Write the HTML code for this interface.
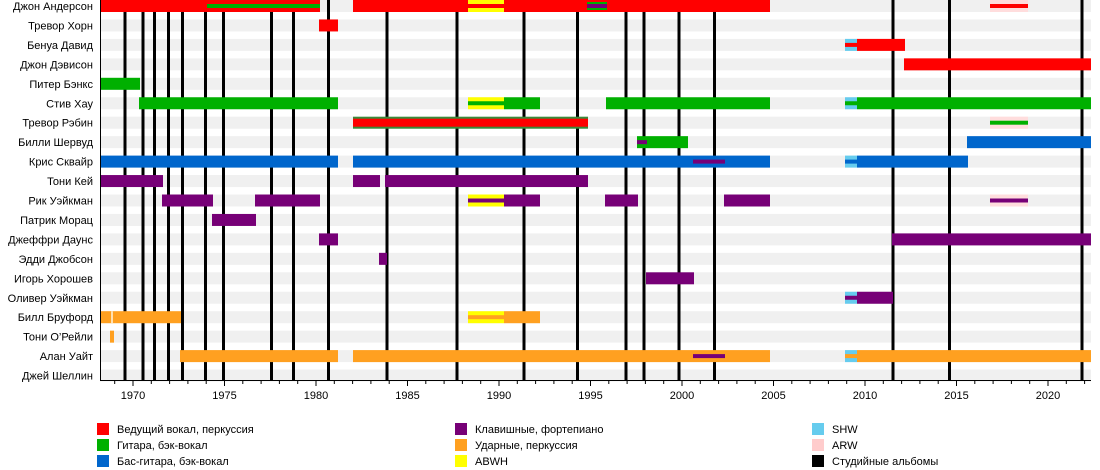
<!DOCTYPE html>
<html><head><meta charset="utf-8"><style>
html,body{margin:0;padding:0;background:#fff;width:1100px;height:470px;overflow:hidden}
svg{display:block;font-family:"Liberation Sans",sans-serif}
</style></head><body>
<svg width="1100" height="470" viewBox="0 0 1100 470" xmlns="http://www.w3.org/2000/svg">
<g fill="#f0f0f0">
<rect x="100" y="0" width="991" height="12"/><rect x="100" y="19.45" width="991" height="12"/><rect x="100" y="38.9" width="991" height="12"/><rect x="100" y="58.35" width="991" height="12"/><rect x="100" y="77.8" width="991" height="12"/><rect x="100" y="97.25" width="991" height="12"/><rect x="100" y="116.7" width="991" height="12"/><rect x="100" y="136.15" width="991" height="12"/><rect x="100" y="155.6" width="991" height="12"/><rect x="100" y="175.05" width="991" height="12"/><rect x="100" y="194.5" width="991" height="12"/><rect x="100" y="213.95" width="991" height="12"/><rect x="100" y="233.4" width="991" height="12"/><rect x="100" y="252.85" width="991" height="12"/><rect x="100" y="272.3" width="991" height="12"/><rect x="100" y="291.75" width="991" height="12"/><rect x="100" y="311.2" width="991" height="12"/><rect x="100" y="330.65" width="991" height="12"/><rect x="100" y="350.1" width="991" height="12"/><rect x="100" y="369.55" width="991" height="12"/>
</g>
<g stroke="#000" stroke-width="3">
<line x1="125" y1="0" x2="125" y2="380"/><line x1="143" y1="0" x2="143" y2="380"/><line x1="154.5" y1="0" x2="154.5" y2="380"/><line x1="168.5" y1="0" x2="168.5" y2="380"/><line x1="182.5" y1="0" x2="182.5" y2="380"/><line x1="205.5" y1="0" x2="205.5" y2="380"/><line x1="223.5" y1="0" x2="223.5" y2="380"/><line x1="271.5" y1="0" x2="271.5" y2="380"/><line x1="293.5" y1="0" x2="293.5" y2="380"/><line x1="328.5" y1="0" x2="328.5" y2="380"/><line x1="387" y1="0" x2="387" y2="380"/><line x1="457" y1="0" x2="457" y2="380"/><line x1="524" y1="0" x2="524" y2="380"/><line x1="577.5" y1="0" x2="577.5" y2="380"/><line x1="626" y1="0" x2="626" y2="380"/><line x1="644" y1="0" x2="644" y2="380"/><line x1="679" y1="0" x2="679" y2="380"/><line x1="714.5" y1="0" x2="714.5" y2="380"/><line x1="893" y1="0" x2="893" y2="380"/><line x1="949.5" y1="0" x2="949.5" y2="380"/><line x1="1082" y1="0" x2="1082" y2="380"/>
</g>
<!-- Row 0 Anderson y=0 -->
<rect x="100" y="0" width="220" height="12" fill="#ff0000"/>
<rect x="207" y="4" width="113" height="4" fill="#00b000"/>
<rect x="353" y="0" width="417" height="12" fill="#ff0000"/>
<rect x="468" y="0" width="36" height="12" fill="#ffff00"/><rect x="468" y="4" width="36" height="4" fill="#ff0000"/>
<rect x="587" y="2" width="20" height="8" fill="#00b000"/><rect x="587" y="4" width="20" height="4" fill="#770077"/>
<rect x="990" y="0" width="38" height="12" fill="#ffdddd"/><rect x="990" y="4" width="38" height="4" fill="#ff0000"/>
<!-- Row 1 Horn y=19.45 -->
<rect x="319" y="19.45" width="19" height="12" fill="#ff0000"/>
<!-- Row 2 David y=38.9 -->
<rect x="845" y="38.9" width="12" height="12" fill="#66ccee"/><rect x="845" y="42.9" width="12" height="4" fill="#ff0000"/>
<rect x="857" y="38.9" width="48" height="12" fill="#ff0000"/>
<!-- Row 3 Davison -->
<rect x="904" y="58.35" width="187" height="12" fill="#ff0000"/>
<!-- Row 4 Banks -->
<rect x="100" y="77.8" width="40" height="12" fill="#00b000"/>
<!-- Row 5 Howe y=97.25 -->
<rect x="139" y="97.25" width="199" height="12" fill="#00b000"/>
<rect x="468" y="97.25" width="36" height="12" fill="#ffff00"/><rect x="468" y="101.25" width="36" height="4" fill="#00b000"/>
<rect x="504" y="97.25" width="36" height="12" fill="#00b000"/>
<rect x="606" y="97.25" width="164" height="12" fill="#00b000"/>
<rect x="845" y="97.25" width="12" height="12" fill="#66ccee"/><rect x="845" y="101.25" width="12" height="4" fill="#00b000"/>
<rect x="857" y="97.25" width="234" height="12" fill="#00b000"/>
<!-- Row 6 Rabin y=116.7 -->
<rect x="353" y="116.7" width="235" height="12" fill="#3a8a3a"/><rect x="353" y="118.7" width="235" height="8" fill="#ff0000"/>
<rect x="990" y="116.7" width="38" height="12" fill="#ffdddd"/><rect x="990" y="120.7" width="38" height="4" fill="#00b000"/>
<!-- Row 7 Sherwood y=136.15 -->
<rect x="637" y="136.15" width="51" height="12" fill="#00b000"/><rect x="637" y="140.15" width="10" height="4" fill="#770077"/>
<rect x="967" y="136.15" width="124" height="12" fill="#0066cc"/>
<!-- Row 8 Squire y=155.6 -->
<rect x="100" y="155.6" width="238" height="12" fill="#0066cc"/>
<rect x="353" y="155.6" width="417" height="12" fill="#0066cc"/><rect x="693" y="159.6" width="32" height="4" fill="#770077"/>
<rect x="845" y="155.6" width="12" height="12" fill="#66ccee"/><rect x="845" y="159.6" width="12" height="4" fill="#0066cc"/>
<rect x="857" y="155.6" width="111" height="12" fill="#0066cc"/>
<!-- Row 9 Kaye y=175.05 -->
<rect x="100" y="175.05" width="63" height="12" fill="#770077"/>
<rect x="353" y="175.05" width="27" height="12" fill="#770077"/>
<rect x="385" y="175.05" width="203" height="12" fill="#770077"/>
<!-- Row 10 Wakeman y=194.5 -->
<rect x="162" y="194.5" width="51" height="12" fill="#770077"/>
<rect x="255" y="194.5" width="65" height="12" fill="#770077"/>
<rect x="468" y="194.5" width="36" height="12" fill="#ffff00"/><rect x="468" y="198.5" width="36" height="4" fill="#770077"/>
<rect x="504" y="194.5" width="36" height="12" fill="#770077"/>
<rect x="605" y="194.5" width="33" height="12" fill="#770077"/>
<rect x="724" y="194.5" width="46" height="12" fill="#770077"/>
<rect x="990" y="194.5" width="38" height="12" fill="#ffdddd"/><rect x="990" y="198.5" width="38" height="4" fill="#770077"/>
<!-- Row 11 Moraz -->
<rect x="212" y="213.95" width="44" height="12" fill="#770077"/>
<!-- Row 12 Downes -->
<rect x="319" y="233.4" width="19" height="12" fill="#770077"/>
<rect x="892" y="233.4" width="199" height="12" fill="#770077"/>
<!-- Row 13 Jobson -->
<rect x="379" y="252.85" width="8" height="12" fill="#770077"/>
<!-- Row 14 Khoroshev -->
<rect x="646" y="272.3" width="48" height="12" fill="#770077"/>
<!-- Row 15 O. Wakeman -->
<rect x="845" y="291.75" width="12" height="12" fill="#66ccee"/><rect x="845" y="295.75" width="12" height="4" fill="#770077"/>
<rect x="857" y="291.75" width="36" height="12" fill="#770077"/>
<!-- Row 16 Bruford y=311.2 -->
<rect x="100" y="311.2" width="81" height="12" fill="#ffa020"/><rect x="111" y="311.2" width="2" height="12" fill="#ffe0b0"/>
<rect x="468" y="311.2" width="36" height="12" fill="#ffff00"/><rect x="468" y="315.2" width="36" height="4" fill="#ffa020"/>
<rect x="504" y="311.2" width="36" height="12" fill="#ffa020"/>
<!-- Row 17 O'Reilly -->
<rect x="110" y="330.65" width="4" height="12" fill="#ffa020"/>
<!-- Row 18 White y=350.1 -->
<rect x="180" y="350.1" width="158" height="12" fill="#ffa020"/>
<rect x="353" y="350.1" width="417" height="12" fill="#ffa020"/><rect x="693" y="354.1" width="32" height="4" fill="#770077"/>
<rect x="845" y="350.1" width="12" height="12" fill="#66ccee"/><rect x="845" y="354.1" width="12" height="4" fill="#ffa020"/>
<rect x="857" y="350.1" width="234" height="12" fill="#ffa020"/>
<!-- labels -->
<g font-size="11" fill="#000" text-anchor="end">
<text x="93" y="10">Джон Андерсон</text><text x="93" y="29.5">Тревор Хорн</text><text x="93" y="49">Бенуа Давид</text><text x="93" y="68.4">Джон Дэвисон</text><text x="93" y="87.8">Питер Бэнкс</text><text x="93" y="107.3">Стив Хау</text><text x="93" y="126.7">Тревор Рэбин</text><text x="93" y="146.2">Билли Шервуд</text><text x="93" y="165.6">Крис Сквайр</text><text x="93" y="185">Тони Кей</text><text x="93" y="204.5">Рик Уэйкман</text><text x="93" y="224">Патрик Морац</text><text x="93" y="243.4">Джеффри Даунс</text><text x="93" y="262.9">Эдди Джобсон</text><text x="93" y="282.3">Игорь Хорошев</text><text x="93" y="301.8">Оливер Уэйкман</text><text x="93" y="321.2">Билл Бруфорд</text><text x="93" y="340.7">Тони О’Рейли</text><text x="93" y="360.1">Алан Уайт</text><text x="93" y="379.6">Джей Шеллин</text>
</g>
<!-- axis -->
<line x1="100" y1="380.5" x2="1091" y2="380.5" stroke="#000" stroke-width="1"/>
<line x1="100.5" y1="0" x2="100.5" y2="381" stroke="#000" stroke-width="1"/>
<g stroke="#000" stroke-width="1">
<path d="M133,381v5M224.5,381v5M316,381v5M407.5,381v5M499,381v5M590.5,381v5M682,381v5M773.5,381v5M865,381v5M956.5,381v5M1048,381v5"/>
<path d="M114.7,381v3M151.3,381v3M169.6,381v3M187.9,381v3M206.2,381v3M242.8,381v3M261.1,381v3M279.4,381v3M297.7,381v3M334.3,381v3M352.6,381v3M370.9,381v3M389.2,381v3M425.8,381v3M444.1,381v3M462.4,381v3M480.7,381v3M517.3,381v3M535.6,381v3M553.9,381v3M572.2,381v3M608.8,381v3M627.1,381v3M645.4,381v3M663.7,381v3M700.3,381v3M718.6,381v3M736.9,381v3M755.2,381v3M791.8,381v3M810.1,381v3M828.4,381v3M846.7,381v3M883.3,381v3M901.6,381v3M919.9,381v3M938.2,381v3M974.8,381v3M993.1,381v3M1011.4,381v3M1029.7,381v3M1066.3,381v3M1084.6,381v3"/>
</g>
<g font-size="11" fill="#000" text-anchor="middle">
<text x="133" y="399">1970</text><text x="224.5" y="399">1975</text><text x="316" y="399">1980</text><text x="407.5" y="399">1985</text><text x="499" y="399">1990</text><text x="590.5" y="399">1995</text><text x="682" y="399">2000</text><text x="773.5" y="399">2005</text><text x="865" y="399">2010</text><text x="956.5" y="399">2015</text><text x="1048" y="399">2020</text>
</g>
<!-- legend -->
<g font-size="11" fill="#000">
<rect x="97" y="423" width="12" height="12" fill="#ff0000"/><text x="117" y="433">Ведущий вокал, перкуссия</text>
<rect x="97" y="439" width="12" height="12" fill="#00b000"/><text x="117" y="449">Гитара, бэк-вокал</text>
<rect x="97" y="455" width="12" height="12" fill="#0066cc"/><text x="117" y="465">Бас-гитара, бэк-вокал</text>
<rect x="455" y="423" width="12" height="12" fill="#770077"/><text x="475" y="433">Клавишные, фортепиано</text>
<rect x="455" y="439" width="12" height="12" fill="#ffa020"/><text x="475" y="449">Ударные, перкуссия</text>
<rect x="455" y="455" width="12" height="12" fill="#ffff00"/><text x="475" y="465">ABWH</text>
<rect x="812" y="423" width="12" height="12" fill="#66ccee"/><text x="832" y="433">SHW</text>
<rect x="812" y="439" width="12" height="12" fill="#ffcccc"/><text x="832" y="449">ARW</text>
<rect x="812" y="455" width="12" height="12" fill="#000"/><text x="832" y="465">Студийные альбомы</text>
</g>
</svg>
</body></html>
